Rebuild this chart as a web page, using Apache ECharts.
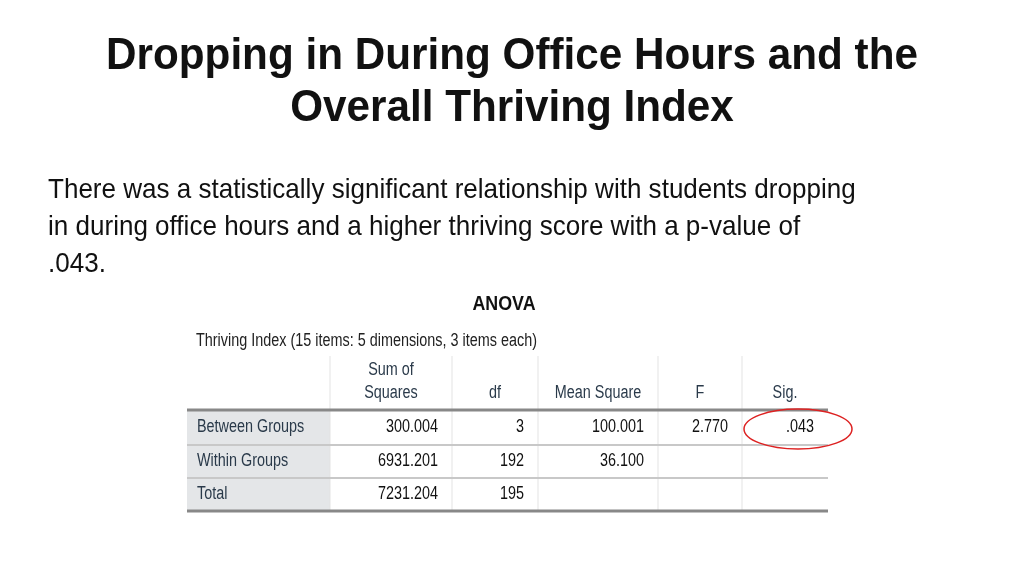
<!DOCTYPE html>
<html><head><meta charset="utf-8">
<script src="https://cdn.jsdelivr.net/npm/echarts@6/dist/echarts.min.js"></script>
<style>html,body{margin:0;padding:0;background:#fff}#c{width:1024px;height:576px}</style>
</head><body><div id="c"></div>
<script>
const titleLines = ["Dropping in During Office Hours and the", "Overall Thriving Index"];
const bodyLines = ["There was a statistically significant relationship with students dropping", "in during office hours and a higher thriving score with a p-value of", ".043."];
const tableTitle = "ANOVA";
const tableSubtitle = "Thriving Index (15 items: 5 dimensions, 3 items each)";
const headers = ["", "Sum of\nSquares", "df", "Mean Square", "F", "Sig."];
const rowLabels = ["Between Groups", "Within Groups", "Total"];
const sumSquares = ["300.004", "6931.201", "7231.204"];
const dfs = ["3", "192", "195"];
const meanSquares = ["100.001", "36.100", ""];
const fValues = ["2.770", "", ""];
const sigValues = [".043", "", ""];

const colX = [187, 330, 452, 538, 658, 742, 828];
const rowY = [410, 445, 478, 511];
const g = [];
const F = "Liberation Sans";
const SX = 0.8;
function nt(x,y,text,opts){ // narrow text
  g.push({type:'text',x:x,y:y,scaleX:SX,style:Object.assign({text:text,font:'18px '+F},opts)});
}
titleLines.forEach((t,i)=>g.push({type:'text',x:512,y:57+i*52,scaleX:0.96,style:{text:t,font:'bold 44px '+F,fill:'#111',align:'center',verticalAlign:'middle'}}));
bodyLines.forEach((t,i)=>g.push({type:'text',x:48,y:190+i*37,scaleX:0.93,style:{text:t,font:'28px '+F,fill:'#111',verticalAlign:'middle'}}));
g.push({type:'text',x:504,y:304,scaleX:0.85,style:{text:tableTitle,font:'bold 21px '+F,fill:'#111',align:'center',verticalAlign:'middle'}});
nt(196,341,tableSubtitle,{fill:'#222',verticalAlign:'middle'});
g.push({type:'rect',shape:{x:colX[0],y:rowY[0],width:colX[1]-colX[0],height:rowY[3]-rowY[0]},style:{fill:'#e4e6e8'}});
for(let i=1;i<colX.length-1;i++) g.push({type:'line',shape:{x1:colX[i],y1:356,x2:colX[i],y2:rowY[3]},style:{stroke:'#e3e3e3',lineWidth:1}});
g.push({type:'line',shape:{x1:colX[0],y1:rowY[0],x2:colX[6],y2:rowY[0]},style:{stroke:'#888',lineWidth:3}});
g.push({type:'line',shape:{x1:colX[0],y1:rowY[1],x2:colX[6],y2:rowY[1]},style:{stroke:'#c8c8c8',lineWidth:2}});
g.push({type:'line',shape:{x1:colX[0],y1:rowY[2],x2:colX[6],y2:rowY[2]},style:{stroke:'#c8c8c8',lineWidth:2}});
g.push({type:'line',shape:{x1:colX[0],y1:rowY[3],x2:colX[6],y2:rowY[3]},style:{stroke:'#888',lineWidth:3}});
headers.forEach((h,i)=>{ if(!h) return; const cx=(colX[i]+colX[i+1])/2;
  nt(cx,405,h,{fill:'#2a3a4a',align:'center',verticalAlign:'bottom',lineHeight:23});});
const cols=[sumSquares,dfs,meanSquares,fValues,sigValues];
rowLabels.forEach((r,ri)=>{ const cy=(rowY[ri]+rowY[ri+1])/2;
  nt(colX[0]+10,cy,r,{fill:'#2a3a4a',verticalAlign:'middle'});
  cols.forEach((c,ci)=>{ if(!c[ri]) return;
    nt(colX[ci+2]-14,cy,c[ri],{fill:'#111',align:'right',verticalAlign:'middle'});});
});
g.push({type:'ellipse',shape:{cx:798,cy:429,rx:54,ry:20},style:{fill:'none',stroke:'#d22',lineWidth:1.5}});
const chart = echarts.init(document.getElementById('c'));
chart.setOption({backgroundColor:'#fff',graphic:g});
</script></body></html>
